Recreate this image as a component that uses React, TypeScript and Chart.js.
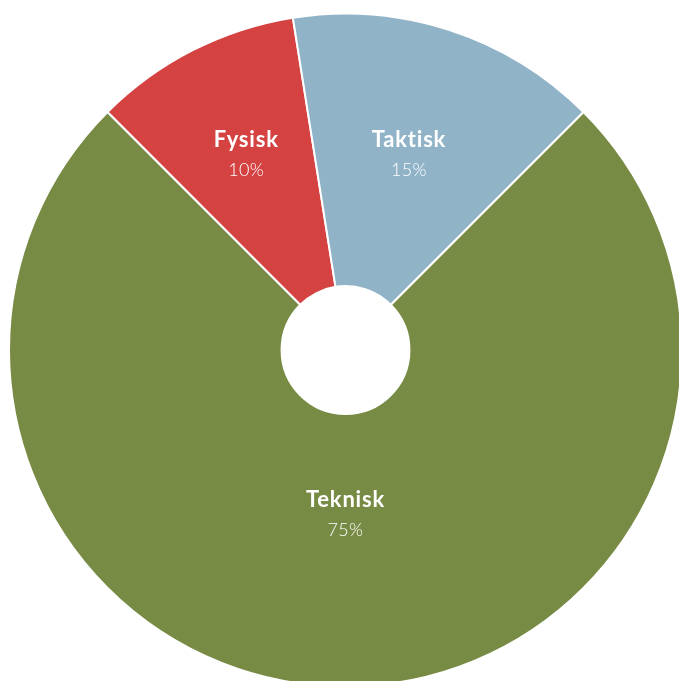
import React, { useEffect, useRef } from "react";
import { Chart, registerables } from "chart.js";

Chart.register(...registerables);

const categories = ["Teknisk", "Fysisk", "Taktisk"];
const values = [75, 10, 15];
const percentLabels = ["75%", "10%", "15%"];
const colors = ["#788B45", "#D44242", "#90B3C8"];
const labelRadiusFactors = [0.49, 0.65, 0.61];

const labelPlugin = {
  id: "sliceLabels",
  afterDatasetsDraw(chart: any) {
    const ctx = chart.ctx;
    const meta = chart.getDatasetMeta(0);
    ctx.save();
    ctx.fillStyle = "#ffffff";
    ctx.textAlign = "center";
    ctx.textBaseline = "middle";
    meta.data.forEach((arc: any, i: number) => {
      const { x, y, startAngle, endAngle, outerRadius } = arc.getProps(
        ["x", "y", "startAngle", "endAngle", "outerRadius"],
        true
      );
      const mid = (startAngle + endAngle) / 2;
      const r = outerRadius * labelRadiusFactors[i];
      const cx = x + Math.cos(mid) * r;
      const cy = y + Math.sin(mid) * r;
      ctx.font = "bold 22px Lato, 'Open Sans', sans-serif";
      (ctx as any).letterSpacing = "0.8px";
      ctx.fillText(categories[i], cx, cy - 15);
      ctx.font = "300 18px Lato, 'Open Sans', sans-serif";
      (ctx as any).letterSpacing = "0.3px";
      ctx.fillText(percentLabels[i], cx, cy + 15);
    });
    ctx.restore();
  },
};

export default function App() {
  const ref = useRef<HTMLCanvasElement | null>(null);
  useEffect(() => {
    if (!ref.current) return;
    const chart = new Chart(ref.current, {
      type: "doughnut",
      data: {
        labels: categories,
        datasets: [
          {
            data: values,
            backgroundColor: colors,
            borderColor: "#ffffff",
            borderWidth: 2,
            hoverOffset: 0,
          },
        ],
      },
      options: {
        responsive: false,
        animation: false,
        rotation: 45,
        cutout: "19%",
        layout: { padding: 0 },
        events: [],
        plugins: {
          legend: { display: false },
          tooltip: { enabled: false },
        },
      },
      plugins: [labelPlugin],
    });
    return () => chart.destroy();
  }, []);
  return (
    <div
      style={{
        position: "fixed",
        left: 0,
        top: 0,
        width: 679,
        height: 681,
        overflow: "hidden",
        background: "#ffffff",
      }}
    >
      <canvas
        ref={ref}
        width={675}
        height={684}
        style={{ position: "absolute", left: 8, top: 8, width: 675, height: 684 }}
      />
    </div>
  );
}
